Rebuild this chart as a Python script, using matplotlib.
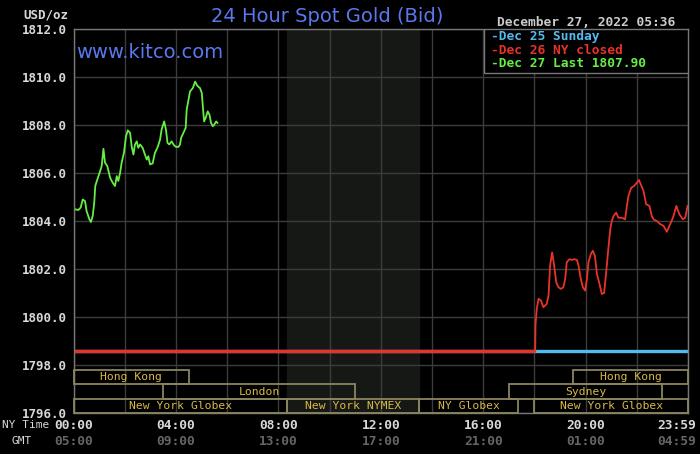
import matplotlib.pyplot as plt
import matplotlib.transforms as mtransforms
from matplotlib.patches import Rectangle

# Dec 27 (green) - NY hours, price
dec27_hours = [0.0, 0.06, 0.19, 0.28, 0.36, 0.45, 0.51, 0.62, 0.68, 0.75, 0.81, 0.85, 0.93,
               1.04, 1.10, 1.17, 1.23, 1.32, 1.43, 1.53, 1.62, 1.69, 1.75, 1.82, 1.88, 1.97,
               2.05, 2.12, 2.21, 2.27, 2.34, 2.40, 2.47, 2.53, 2.60, 2.70, 2.79, 2.86, 2.92,
               2.99, 3.09, 3.18, 3.29, 3.38, 3.44, 3.54, 3.61, 3.67, 3.74, 3.83, 3.93, 4.00,
               4.10, 4.16, 4.20, 4.29, 4.38, 4.42, 4.49, 4.55, 4.66, 4.75, 4.84, 4.94, 5.01,
               5.05, 5.10, 5.16, 5.24, 5.31, 5.37, 5.44, 5.50, 5.57, 5.62]
dec27_price = [1804.42, 1804.49, 1804.46, 1804.56, 1804.90, 1804.83, 1804.42, 1804.07, 1803.96,
               1804.21, 1804.77, 1805.46, 1805.73, 1806.08, 1806.29, 1807.01, 1806.43, 1806.29,
               1805.80, 1805.60, 1805.46, 1805.87, 1805.67, 1806.01, 1806.43, 1806.84, 1807.53,
               1807.78, 1807.67, 1807.12, 1806.77, 1807.19, 1807.32, 1807.05, 1807.19, 1807.05,
               1806.77, 1806.56, 1806.70, 1806.36, 1806.40, 1806.84, 1807.09, 1807.39, 1807.81,
               1808.15, 1807.81, 1807.26, 1807.19, 1807.32, 1807.15, 1807.09, 1807.09, 1807.19,
               1807.46, 1807.67, 1807.88, 1808.64, 1809.05, 1809.40, 1809.54, 1809.81, 1809.63,
               1809.54, 1809.33, 1808.78, 1808.15, 1808.29, 1808.57, 1808.43, 1808.09, 1807.95,
               1808.02, 1808.15, 1808.09]

# Dec 26 (red) - closed flat until evening open, then trading
dec26_flat_hours = [0.0, 18.03]
dec26_flat_price = [1798.57, 1798.57]
dec26_hours = [18.03, 18.04, 18.09, 18.16, 18.25, 18.35, 18.48, 18.55, 18.61, 18.69, 18.77,
               18.85, 18.94, 19.03, 19.13, 19.20, 19.26, 19.37, 19.46, 19.55, 19.66, 19.72,
               19.81, 19.89, 19.98, 20.05, 20.11, 20.20, 20.28, 20.36, 20.44, 20.54, 20.63,
               20.72, 20.80, 20.89, 20.96, 21.02, 21.09, 21.19, 21.28, 21.41, 21.54, 21.61,
               21.67, 21.78, 21.89, 22.00, 22.08, 22.16, 22.26, 22.36, 22.49, 22.58, 22.65,
               22.78, 22.91, 23.04, 23.17, 23.27, 23.41, 23.54, 23.66, 23.80, 23.89, 23.98]
dec26_price = [1798.57, 1799.65, 1800.34, 1800.76, 1800.69, 1800.41, 1800.55, 1800.89, 1802.14,
               1802.69, 1802.14, 1801.45, 1801.24, 1801.17, 1801.24, 1801.59, 1802.28, 1802.41,
               1802.38, 1802.41, 1802.38, 1802.14, 1801.59, 1801.24, 1801.10, 1801.59, 1802.28,
               1802.62, 1802.76, 1802.55, 1801.79, 1801.38, 1800.96, 1801.00, 1801.86, 1802.90,
               1803.66, 1804.00, 1804.21, 1804.35, 1804.14, 1804.14, 1804.07, 1804.63, 1805.04,
               1805.39, 1805.46, 1805.60, 1805.71, 1805.51, 1805.25, 1804.70, 1804.63, 1804.21,
               1804.07, 1804.00, 1803.87, 1803.80, 1803.55, 1803.80, 1804.14, 1804.63, 1804.28,
               1804.07, 1804.14, 1804.63]

# Dec 25 (blue) - Sunday, flat
dec25_hours = [0.0, 24.0]
dec25_price = [1798.57, 1798.57]

# trading sessions: (row, start hour, end hour, label)
sessions = [(0, 0.0, 4.5, "Hong Kong"), (0, 19.5, 24.0, "Hong Kong"),
            (1, 3.5, 11.0, "London"), (1, 17.0, 23.0, "Sydney"),
            (2, 0.0, 8.33, "New York Globex"), (2, 8.33, 13.5, "New York NYMEX"),
            (2, 13.5, 17.35, "NY Globex"), (2, 18.0, 24.0, "New York Globex")]
nymex_hours = (8.33, 13.5)

x_ticks = [0, 4, 8, 12, 16, 20, 24]
ny_labels = ["00:00", "04:00", "08:00", "12:00", "16:00", "20:00", "23:59"]
gmt_labels = ["05:00", "09:00", "13:00", "17:00", "21:00", "01:00", "04:59"]
y_ticks = [1796, 1798, 1800, 1802, 1804, 1806, 1808, 1810, 1812]

mono = "DejaVu Sans Mono"

fig = plt.figure(figsize=(7, 4.54), dpi=100, facecolor="black")
ax = fig.add_axes([0.105, 0.0903, 0.878, 0.8457], facecolor="black")

ax.set_xlim(0, 24)
ax.set_ylim(1796, 1812)
ax.set_xticks(range(0, 25, 2))
ax.set_yticks(y_ticks)
ax.grid(True, color="#3c3c3c", linewidth=1.0)
ax.set_axisbelow(True)
ax.tick_params(length=0, labelbottom=False, pad=5)
ax.set_yticklabels([f"{v:.1f}" for v in y_ticks], family=mono, weight="bold",
                   fontsize=9, color="#d8d8d8")
for s in ax.spines.values():
    s.set_color("#777777")
    s.set_linewidth(1.0)

ax.axvspan(nymex_hours[0], nymex_hours[1], color="#161816", zorder=0)

ax.plot(dec25_hours, dec25_price, color="#55bbee", linewidth=2.4, solid_capstyle="butt")
ax.plot(dec26_flat_hours, dec26_flat_price, color="#e8332a", linewidth=2.4, solid_capstyle="butt")
ax.plot(dec26_hours, dec26_price, color="#e8332a", linewidth=1.3)
ax.plot(dec27_hours, dec27_price, color="#66ee44", linewidth=1.3)

# session boxes (axes-fraction rows)
trans = mtransforms.blended_transform_factory(ax.transData, ax.transAxes)
row_top = [0.112, 0.0755, 0.0365]
row_bot = [0.0755, 0.0365, 0.0]
for row, start, end, label in sessions:
    ax.add_patch(Rectangle((start, row_bot[row]), end - start, row_top[row] - row_bot[row],
                           transform=trans, fill=False, edgecolor="#8a8660",
                           linewidth=1.3, clip_on=False, zorder=3))
    ax.text((start + end) / 2, (row_top[row] + row_bot[row]) / 2, label, transform=trans,
            ha="center", va="center", family=mono, fontsize=8.2, color="#d8b848", zorder=4)

# legend box
ax.add_patch(Rectangle((0.668, 0.885), 0.332, 0.115, transform=ax.transAxes,
                       facecolor="black", edgecolor="#777777", linewidth=1.0, zorder=5))
legend_items = [("-Dec 25 Sunday", "#55bbee"), ("-Dec 26 NY closed", "#e8332a"),
                ("-Dec 27 Last 1807.90", "#66ee44")]
for i, (txt, col) in enumerate(legend_items):
    ax.text(0.680, 0.981 - i * 0.036, txt, transform=ax.transAxes, ha="left", va="center",
            family=mono, weight="bold", fontsize=9.3, color=col, zorder=6)

# x labels
last_trans = mtransforms.offset_copy(trans, fig=fig, x=8, units="dots")
for xt, ny, gmt in zip(x_ticks, ny_labels, gmt_labels):
    if xt == x_ticks[-1]:
        t, ha = last_trans, "right"
    else:
        t, ha = trans, "center"
    ax.text(xt, -0.032, ny, transform=t, ha=ha, va="center", family=mono,
            weight="bold", fontsize=9.3, color="#d8d8d8")
    ax.text(xt, -0.075, gmt, transform=t, ha=ha, va="center", family=mono,
            weight="bold", fontsize=9.3, color="#656565")
fig.text(0.003, 0.063, "NY Time", ha="left", va="center", family=mono, fontsize=8,
         color="#d8d8d8")
fig.text(0.017, 0.028, "GMT", ha="left", va="center", family=mono, fontsize=8,
         color="#d8d8d8")

fig.text(0.065, 0.966, "USD/oz", ha="center", va="center", family=mono, weight="bold",
         fontsize=9, color="#d8d8d8")
fig.text(0.467, 0.963, "24 Hour Spot Gold (Bid)", ha="center", va="center",
         family="DejaVu Sans", fontsize=14, color="#5a78ee")
fig.text(0.109, 0.884, "www.kitco.com", ha="left", va="center", family="DejaVu Sans",
         fontsize=14, color="#5a78ee")
fig.text(0.838, 0.951, "December 27, 2022 05:36", ha="center", va="center", family=mono,
         weight="bold", fontsize=9.3, color="#cccccc")

fig.savefig("out.png", dpi=100, facecolor="black")
